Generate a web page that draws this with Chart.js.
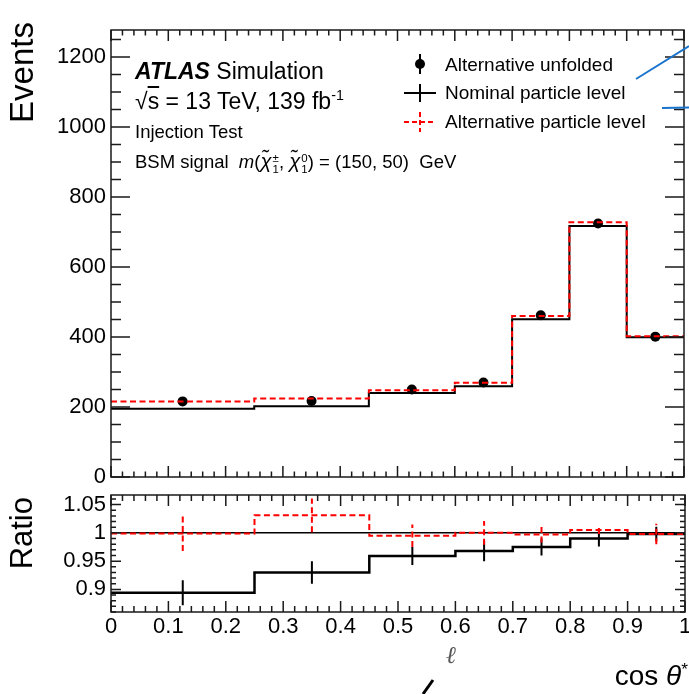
<!DOCTYPE html>
<html>
<head>
<meta charset="utf-8">
<title>Injection test</title>
<script src="https://cdn.jsdelivr.net/npm/chart.js@4.4.1/dist/chart.umd.min.js"></script>
<style>
  html, body { margin: 0; padding: 0; background: #fff; }
  body { width: 689px; height: 694px; position: relative; overflow: hidden;
         font-family: "Liberation Sans", Arial, sans-serif; color: #000; }
  #top { position: absolute; left: 0; top: 0; width: 689px; height: 490px; }
  #bottom { position: absolute; left: 0; top: 480px; width: 689px; height: 214px; }
  .txt { position: absolute; white-space: nowrap; }
  .txt sup { font-size: 0.62em; vertical-align: 0.6em; line-height: 0; }
  .ss { display: inline-block; font-size: 0.62em; line-height: 0.95; vertical-align: -0.45em; margin-left: 1px; }
  .chi { font-size: 1.1em; }
  .rot { position: absolute; width: 200px; text-align: right; transform-origin: 0 0; transform: rotate(-90deg); white-space: nowrap; }
  svg.overlay { position: absolute; left: 0; top: 0; pointer-events: none; }
</style>
</head>
<body>
<div id="top"><canvas id="mainChart"></canvas></div>
<div id="bottom"><canvas id="ratioChart"></canvas></div>

<div class="rot" style="left:6px; top:222px; font-size:33px; line-height:32px;">Events</div>
<div class="rot" style="left:7px; top:697px; font-size:31px; line-height:30px;">Ratio</div>
<div class="txt" style="right:1px; top:662px; font-size:28px; line-height:28px;">cos <i>θ</i><sup>*</sup></div>
<div class="txt" style="left:446px; top:643px; font-size:24px; line-height:24px; font-family:'DejaVu Serif', serif; font-style:italic; color:#555;">ℓ</div>

<div class="txt" style="left:135px; top:60px; font-size:23px; line-height:23px;"><b><i>ATLAS</i></b> Simulation</div>
<div class="txt" style="left:135px; top:90px; font-size:23px; line-height:23px;">√<span style="text-decoration:overline">s</span> = 13 TeV, 139 fb<sup>-1</sup></div>
<div class="txt" style="left:135px; top:122.5px; font-size:18.5px; line-height:18.5px;">Injection Test</div>
<div class="txt" style="left:135px; top:152px; font-size:18.5px; line-height:18.5px;">BSM signal&nbsp; <i>m</i>(<i class="chi">χ̃</i><span class="ss">±<br>1</span>, <i class="chi">χ̃</i><span class="ss">0<br>1</span>) = (150, 50)&nbsp; GeV</div>

<div class="txt" style="left:445px; top:55px; font-size:19px; line-height:19px;">Alternative unfolded</div>
<div class="txt" style="left:445px; top:83px; font-size:19px; line-height:19px;">Nominal particle level</div>
<div class="txt" style="left:445px; top:112px; font-size:19px; line-height:19px;">Alternative particle level</div>

<svg class="overlay" width="689" height="694">
  <circle cx="420" cy="64" r="5" fill="#000"/>
  <line x1="420" y1="54" x2="420" y2="74" stroke="#000" stroke-width="2"/>
  <line x1="404" y1="93" x2="436" y2="93" stroke="#000" stroke-width="2"/>
  <line x1="420" y1="84" x2="420" y2="102" stroke="#000" stroke-width="2"/>
  <line x1="404" y1="122" x2="436" y2="122" stroke="#f00" stroke-width="2" stroke-dasharray="5 3"/>
  <line x1="420" y1="112" x2="420" y2="132" stroke="#f00" stroke-width="2" stroke-dasharray="5 3"/>
  <line x1="636" y1="79" x2="689" y2="46" stroke="#1a74cc" stroke-width="2"/>
  <line x1="662" y1="108" x2="689" y2="107.5" stroke="#1a74cc" stroke-width="2"/>
  <line x1="423" y1="694" x2="433" y2="680" stroke="#000" stroke-width="3"/>
</svg>

<script>
// bins of cos theta*
const binEdges = [0, 0.25, 0.45, 0.6, 0.7, 0.8, 0.9, 1.0]
const binCenters = [0.125, 0.35, 0.525, 0.65, 0.75, 0.85, 0.95]

// upper panel, events
const alternativeUnfolded = [216, 217, 250, 270, 462, 724, 401]
const nominalParticle = [195, 202, 240, 259, 451, 717, 399]
const alternativeParticle = [216, 224, 248, 269, 460, 728, 402]

// lower panel, ratio to alternative unfolded
const ratioNominal = [0.894, 0.930, 0.959, 0.968, 0.975, 0.990, 0.998]
const ratioNominalErr = [0.022, 0.020, 0.016, 0.018, 0.015, 0.014, 0.013]
const ratioAlternative = [0.999, 1.031, 0.995, 1.000, 0.997, 1.005, 0.998]
const ratioAlternativeErr = [0.031, 0.030, 0.020, 0.021, 0.014, 0.007, 0.018]
const ratioUnity = [1, 1]

// tick labels
const xTicks = [0, 0.1, 0.2, 0.3, 0.4, 0.5, 0.6, 0.7, 0.8, 0.9, 1]
const eventsTicks = [0, 200, 400, 600, 800, 1000, 1200]
const ratioTicks = [0.9, 0.95, 1, 1.05]

Chart.defaults.font.family = "'Liberation Sans', Arial, sans-serif"
Chart.defaults.color = '#000'

const tickFont = { size: 22, lineHeight: 1 }

function stepPoints(values){
  const pts = values.map((v, i) => ({ x: binEdges[i], y: v }))
  pts.push({ x: binEdges[binEdges.length - 1], y: values[values.length - 1] })
  return pts
}

function tickValues(min, max, step){
  const out = []
  for (let k = Math.ceil(min / step - 1e-9); k * step <= max + 1e-9; k++){
    out.push(k * step)
  }
  return out
}

function isMajor(v, major){
  const r = v / major
  return Math.abs(r - Math.round(r)) < 1e-6
}

// frame with inward ticks on all four sides, ROOT style
const atlasFrame = {
  id: 'atlasFrame',
  afterDatasetsDraw(chart, args, opts){
    const { ctx, chartArea: a } = chart
    const xs = chart.scales.x
    const ys = chart.scales.y
    ctx.save()
    ctx.strokeStyle = '#1a1a1a'
    ctx.lineWidth = 1.5
    ctx.setLineDash([])
    ctx.beginPath()
    for (const v of tickValues(xs.min, xs.max, opts.xMinor)){
      const len = isMajor(v, opts.xMajor) ? opts.xMajorLen : opts.xMinorLen
      const px = xs.getPixelForValue(v)
      ctx.moveTo(px, a.bottom); ctx.lineTo(px, a.bottom - len)
      ctx.moveTo(px, a.top); ctx.lineTo(px, a.top + len)
    }
    for (const v of tickValues(ys.min, ys.max, opts.yMinor)){
      const len = isMajor(v, opts.yMajor) ? opts.yMajorLen : opts.yMinorLen
      const py = ys.getPixelForValue(v)
      ctx.moveTo(a.left, py); ctx.lineTo(a.left + len, py)
      ctx.moveTo(a.right, py); ctx.lineTo(a.right - len, py)
    }
    ctx.stroke()
    ctx.strokeRect(a.left, a.top, a.right - a.left, a.bottom - a.top)
    ctx.restore()
  }
}

// vertical error bars at bin centres, drawn right after their dataset
const errorBars = {
  id: 'errorBars',
  afterDatasetDraw(chart, args){
    const ds = chart.data.datasets[args.index]
    if (!ds.errors) return
    const { ctx, chartArea: a } = chart
    const xs = chart.scales.x
    const ys = chart.scales.y
    ctx.save()
    ctx.beginPath()
    ctx.rect(a.left, a.top, a.right - a.left, a.bottom - a.top)
    ctx.clip()
    ctx.strokeStyle = ds.borderColor
    ctx.lineWidth = ds.errorWidth || ds.borderWidth
    ctx.setLineDash(ds.borderDash || [])
    ctx.beginPath()
    ds.centres.forEach((v, i) => {
      const px = xs.getPixelForValue(binCenters[i])
      ctx.moveTo(px, ys.getPixelForValue(v - ds.errors[i]))
      ctx.lineTo(px, ys.getPixelForValue(v + ds.errors[i]))
    })
    ctx.stroke()
    ctx.restore()
  }
}

function yScale(min, max, ticks){
  return {
    type: 'linear', min, max,
    afterBuildTicks: s => { s.ticks = ticks.map(v => ({ value: v })) },
    afterFit: s => { s.width = 111; s.paddingTop = 0; s.paddingBottom = 0 },
    grid: { display: false, drawTicks: false },
    border: { display: false },
    ticks: { padding: 5, font: tickFont, callback: v => String(v) }
  }
}

const commonOptions = {
  responsive: true,
  maintainAspectRatio: false,
  animation: false,
  events: [],
  plugins: { legend: { display: false }, tooltip: { enabled: false } }
}

new Chart(document.getElementById('mainChart'), {
  type: 'line',
  data: {
    datasets: [
      {
        label: 'Alternative particle level',
        data: stepPoints(alternativeParticle),
        stepped: true, borderColor: '#ff0000', borderWidth: 2, borderDash: [6, 3.5],
        pointRadius: 0, fill: false, order: 0
      },
      {
        label: 'Alternative unfolded',
        data: alternativeUnfolded.map((v, i) => ({ x: binCenters[i], y: v })),
        showLine: false, pointRadius: 5, pointBackgroundColor: '#000',
        pointBorderWidth: 0, borderColor: '#000', order: 1
      },
      {
        label: 'Nominal particle level',
        data: stepPoints(nominalParticle),
        stepped: true, borderColor: '#000', borderWidth: 2,
        pointRadius: 0, fill: false, order: 2
      }
    ]
  },
  options: {
    ...commonOptions,
    layout: { padding: { top: 30, right: 4, bottom: 13, left: 0 } },
    scales: {
      x: { type: 'linear', min: 0, max: 1, display: false },
      y: yScale(0, 1277, eventsTicks)
    },
    plugins: {
      ...commonOptions.plugins,
      atlasFrame: { xMinor: 0.02, xMajor: 0.1, xMajorLen: 11, xMinorLen: 5.5,
                    yMinor: 50, yMajor: 200, yMajorLen: 19, yMinorLen: 10 }
    }
  },
  plugins: [errorBars, atlasFrame]
})

new Chart(document.getElementById('ratioChart'), {
  type: 'line',
  data: {
    datasets: [
      {
        label: 'Alternative particle level',
        data: stepPoints(ratioAlternative),
        centres: ratioAlternative, errors: ratioAlternativeErr,
        stepped: true, borderColor: '#ff0000', borderWidth: 2, borderDash: [6, 3.5],
        pointRadius: 0, fill: false, order: 0
      },
      {
        label: 'Nominal particle level',
        data: stepPoints(ratioNominal),
        centres: ratioNominal, errors: ratioNominalErr,
        stepped: true, borderColor: '#000', borderWidth: 2.5, errorWidth: 2,
        pointRadius: 0, fill: false, order: 1
      },
      {
        label: 'unity',
        data: ratioUnity.map((v, i) => ({ x: binEdges[i * (binEdges.length - 1)], y: v })),
        borderColor: '#000', borderWidth: 1.5, pointRadius: 0, fill: false, order: 2
      }
    ]
  },
  options: {
    ...commonOptions,
    layout: { padding: { top: 15, right: 4, bottom: 0, left: 0 } },
    scales: {
      x: {
        type: 'linear', min: 0, max: 1,
        afterBuildTicks: s => { s.ticks = xTicks.map(v => ({ value: v })) },
        afterFit: s => { s.height = 82; s.paddingLeft = 0; s.paddingRight = 0 },
        grid: { display: false, drawTicks: false },
        border: { display: false },
        ticks: { padding: 4, maxRotation: 0, autoSkip: false, font: tickFont, callback: v => String(v) }
      },
      y: yScale(0.86, 1.067, ratioTicks)
    },
    plugins: {
      ...commonOptions.plugins,
      atlasFrame: { xMinor: 0.02, xMajor: 0.1, xMajorLen: 11, xMinorLen: 6,
                    yMinor: 0.01, yMajor: 0.05, yMajorLen: 10, yMinorLen: 5 }
    }
  },
  plugins: [errorBars, atlasFrame]
})
</script>
</body>
</html>
